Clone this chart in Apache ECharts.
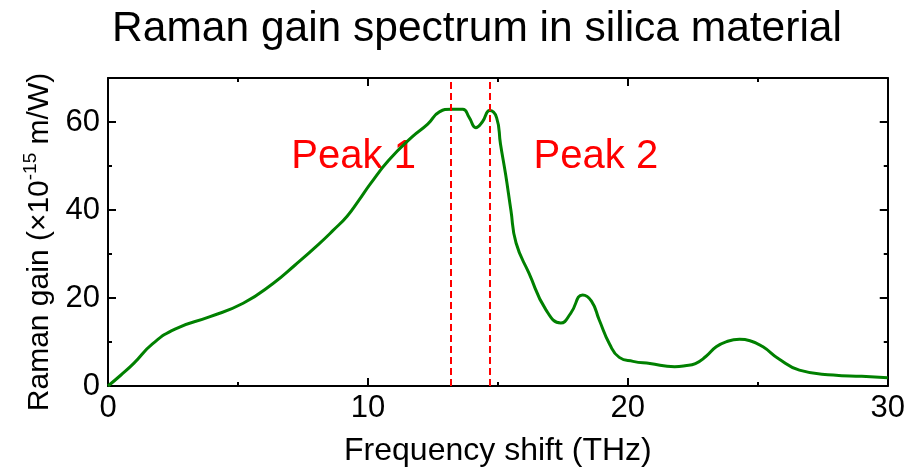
<!DOCTYPE html>
<html>
<head>
<meta charset="utf-8">
<script src="https://cdn.jsdelivr.net/npm/echarts@6/dist/echarts.min.js"></script>
<style>html,body{margin:0;padding:0;background:#fff;}#c{width:908px;height:472px;}</style>
</head>
<body>
<div id="c"></div>
<script>
// Frequency shift (THz)
var freq = [0, 0.5, 1.0, 1.7, 2.6, 3.9, 5.2, 6.35, 7.2, 8.1, 8.65, 9.2, 9.65, 10.1, 10.8, 11.7, 12.3, 12.75, 13.2, 13.65, 13.9, 14.15, 14.4, 14.68, 14.95, 15.1, 15.3, 15.5, 15.7, 16.2, 16.85, 17.42, 17.8, 18.26, 18.6, 18.9, 19.3, 19.67, 20.2, 20.85, 21.8, 22.2, 22.6, 23.0, 23.4, 23.8, 24.3, 24.7, 25.2, 25.8, 26.6, 27.9, 29.0, 30.0];
// Raman gain (x1e-15 m/W)
var gain = [0, 2.5, 5.2, 9.5, 13.0, 15.7, 18.8, 23.3, 27.5, 32.2, 35.3, 38.6, 42.2, 46.0, 51.3, 56.6, 59.5, 62.3, 62.9, 62.9, 61.0, 58.7, 60.0, 62.6, 61.0, 55.0, 48.0, 40.0, 32.5, 25.6, 17.3, 14.3, 16.5, 20.7, 19.3, 15.0, 9.5, 6.5, 5.6, 5.1, 4.4, 4.6, 5.1, 6.7, 8.9, 10.1, 10.6, 10.3, 8.9, 6.2, 3.6, 2.5, 2.2, 1.9];
var peakLines = [13.2, 14.7];
var peakLabels = ['Peak 1', 'Peak 2'];
var peakLabelX = [9.45, 18.77];
var peakLabelY = [52, 52];
var xTicks = [0, 10, 20, 30];
var yTicks = [0, 20, 40, 60];

var FONT = 'Liberation Sans, Arial, sans-serif';
var lineData = freq.map(function (f, i) { return [f, gain[i]]; });
var labelData = peakLabels.map(function (t, i) { return [peakLabelX[i], peakLabelY[i], t]; });

var axisLineStyle = { color: '#000', width: 2 };
function xAx(pos, showLabel, extra) {
  var a = {
    type: 'value', position: pos, min: 0, max: 30, interval: 10,
    axisLine: { show: true, onZero: false, lineStyle: axisLineStyle },
    axisTick: { show: true, inside: true, length: 8, lineStyle: { color: '#000', width: 2 } },
    minorTick: { show: true, splitNumber: 2, length: 4, lineStyle: { color: '#000', width: 2 } },
    splitLine: { show: false }, minorSplitLine: { show: false },
    axisLabel: { show: showLabel, fontSize: 31, fontFamily: FONT, color: '#000', margin: 7,
      formatter: function (v) { return xTicks.indexOf(v) >= 0 ? String(v) : ''; } }
  };
  for (var k in extra) a[k] = extra[k];
  return a;
}
function yAx(pos, interval, tickLen, showLabel, showLine, extra) {
  var a = {
    type: 'value', position: pos, min: 0, max: 70, interval: interval,
    axisLine: { show: showLine, onZero: false, lineStyle: axisLineStyle },
    axisTick: { show: true, inside: true, length: tickLen, lineStyle: { color: '#000', width: 2 } },
    splitLine: { show: false },
    axisLabel: { show: showLabel, fontSize: 31, fontFamily: FONT, color: '#000', margin: 8,
      formatter: function (v) { return yTicks.indexOf(v) >= 0 ? String(v) : ''; } }
  };
  for (var k in extra) a[k] = extra[k];
  return a;
}

var chart = echarts.init(document.getElementById('c'), null, { renderer: 'canvas' });
chart.setOption({
  backgroundColor: '#fff',
  animation: false,
  title: {
    text: 'Raman gain spectrum in silica material',
    left: 472, top: 3, textAlign: 'center',
    textStyle: { fontSize: 42.5, fontWeight: 'normal', fontFamily: FONT, color: '#000' }
  },
  grid: { left: 108, right: 19, top: 78, bottom: 86, containLabel: false },
  xAxis: [
    xAx('bottom', true, {
      name: 'Frequency shift (THz)', nameLocation: 'middle', nameGap: 49,
      nameTextStyle: { fontSize: 32, fontFamily: FONT, color: '#000' }
    }),
    xAx('top', false, {})
  ],
  yAxis: [
    yAx('left', 20, 8, true, true, {
      name: '{a|Raman gain (×10}{b|-15}{a| m/W)}', nameLocation: 'middle', nameGap: 48, nameRotate: 90,
      nameTextStyle: { color: '#000', fontFamily: FONT, fontSize: 30, padding: [0, 20, 0, 0],
        rich: { a: { fontSize: 30, fontFamily: FONT, color: '#000', lineHeight: 36 },
                b: { fontSize: 19, fontFamily: FONT, color: '#000', verticalAlign: 'top', lineHeight: 36 } } }
    }),
    yAx('right', 20, 8, false, true, {}),
    yAx('left', 10, 4, false, false, {}),
    yAx('right', 10, 4, false, false, {})
  ],
  series: [
    {
      type: 'line', xAxisIndex: 0, yAxisIndex: 0, data: lineData,
      smooth: 0.5, showSymbol: false, symbol: 'none',
      lineStyle: { color: '#008000', width: 3 },
      markLine: {
        silent: true, symbol: 'none', label: { show: false },
        lineStyle: { color: '#ff0000', type: [7, 4], width: 2, opacity: 1 },
        data: peakLines.map(function (v) { return { xAxis: v }; })
      },
      z: 3
    },
    {
      type: 'scatter', xAxisIndex: 0, yAxisIndex: 0, data: labelData,
      symbolSize: 0, silent: true, itemStyle: { opacity: 1 },
      label: { show: true, position: 'inside', formatter: function (p) { return p.data[2]; },
        fontSize: 40, fontFamily: FONT, color: '#ff0000', opacity: 1 },
      z: 2
    }
  ]
});
</script>
</body>
</html>
